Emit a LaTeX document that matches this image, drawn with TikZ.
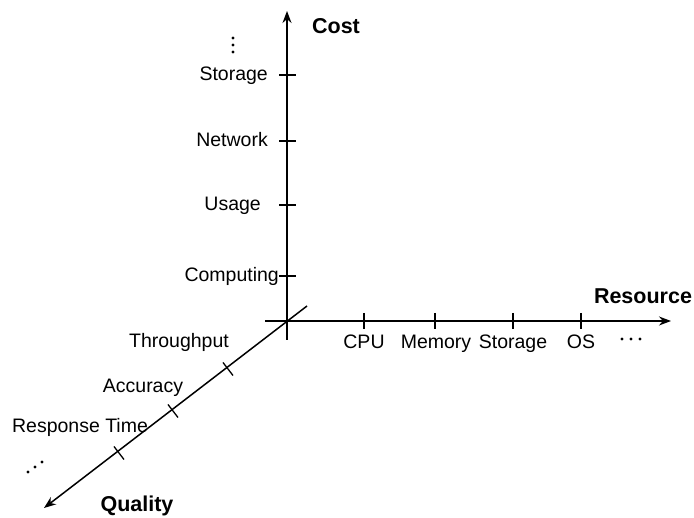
\documentclass[tikz,border=0pt]{standalone}
\usepackage{fontspec}
\setmainfont{Liberation Sans}
\usetikzlibrary{arrows.meta}
\begin{document}
\begin{tikzpicture}[x=1pt,y=-1pt,
  axis/.style={line width=1.5pt,-{Stealth[length=12pt,width=9pt]}},
  tick/.style={line width=1.3pt},
  dotmark/.style={fill=black},
  lbl/.style={inner sep=0pt,font=\fontsize{19.5}{22}\selectfont},
  ttl/.style={inner sep=0pt,font=\fontsize{21.5}{24}\selectfont\bfseries}]
\useasboundingbox (0,0) rectangle (694,518);
% axis end points
\coordinate (O) at (287,321);
\coordinate (vb) at (287,340);
\coordinate (vt) at (287,11);
\coordinate (hl) at (265,321);
\coordinate (hr) at (671,321);
\coordinate (ds) at (307,306);
\coordinate (de) at (44,508);
\draw[axis] (vb) -- (vt);
\draw[axis] (hl) -- (hr);
\draw[axis] (ds) -- (de);
% vertical ticks
\foreach \n/\y in {t1/75,t2/141,t3/205,t4/276}{
  \coordinate (\n a) at (279,\y); \coordinate (\n b) at (296,\y);
  \draw[tick] (\n a) -- (\n b);}
% horizontal ticks
\foreach \n/\x in {h1/364,h2/435,h3/513,h4/581}{
  \coordinate (\n a) at (\x,313); \coordinate (\n b) at (\x,329);
  \draw[tick] (\n a) -- (\n b);}
% diagonal ticks
\foreach \n/\x/\y in {d1/228/369,d2/173/411,d3/119/453}{
  \coordinate (\n a) at (\x-5,\y-6.5); \coordinate (\n b) at (\x+5,\y+6.5);
  \draw[tick] (\n a) -- (\n b);}
% continuation dots
\foreach \x/\y in {233/38,233/45,233/52, 622/339,631/339,640/339, 28/472,35/467,42/462}
  \fill[dotmark] (\x,\y) circle (1.6pt);
% cost labels
\node[lbl,anchor=base east] (cs) at (268,81) {Storage};
\node[lbl,anchor=base east] (cn) at (268,147) {Network};
\node[lbl,anchor=base east] (cu) at (261,211) {Usage};
\node[lbl,anchor=base east] (cc) at (279,282) {Computing};
\node[ttl,anchor=base] (cost) at (336,34) {Cost};
% resource labels
\node[lbl,anchor=base] (rc) at (364,349) {CPU};
\node[lbl,anchor=base] (rm) at (436,349) {Memory};
\node[lbl,anchor=base] (rs) at (513,349) {Storage};
\node[lbl,anchor=base] (ro) at (581,349) {OS};
\node[ttl,anchor=base] (res) at (643,304) {Resource};
% quality labels
\node[lbl,anchor=base] (qt) at (179,348) {Throughput};
\node[lbl,anchor=base] (qa) at (143,393) {Accuracy};
\node[lbl,anchor=base] (qr) at (80,433) {Response Time};
\node[ttl,anchor=base] (qual) at (137,512) {Quality};
\end{tikzpicture}
\end{document}
